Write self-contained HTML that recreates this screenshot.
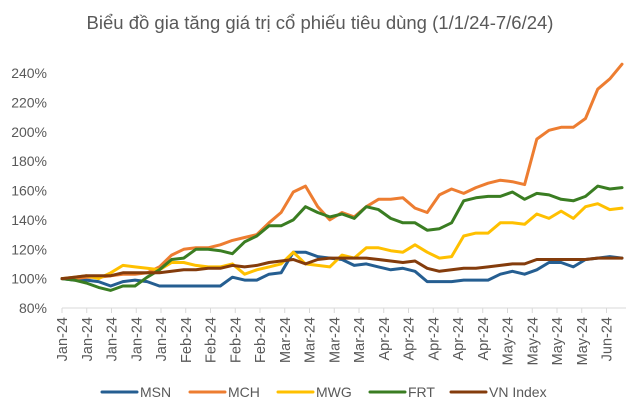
<!DOCTYPE html>
<html><head><meta charset="utf-8"><style>
body{margin:0;background:#fff;}
svg{display:block;font-family:"Liberation Sans",sans-serif;}
</style></head><body>
<svg id="chart" width="640" height="415" viewBox="0 0 640 415">
<text x="320" y="29" text-anchor="middle" font-size="18.5" fill="#595959">Biểu đồ gia tăng giá trị cổ phiếu tiêu dùng (1/1/24-7/6/24)</text>
<g id="yaxis"></g>
<g id="xaxis"></g>
<g id="series"></g>
<g id="legend"></g>
</svg>
<script>
const yTicks=[80,100,120,140,160,180,200,220,240];
const xTickLabels=["Jan-24","Jan-24","Jan-24","Jan-24","Jan-24","Feb-24","Feb-24","Feb-24","Feb-24","Mar-24","Mar-24","Mar-24","Mar-24","Apr-24","Apr-24","Apr-24","Apr-24","Apr-24","May-24","May-24","May-24","May-24","Jun-24"];
const seriesNames=["MSN","MCH","MWG","FRT","VN Index"];
const msn=[100,99,99,98,95,98,99,98,95,95,95,95,95,95,101,99,99,103,104,118,118,115,114,113,109,110,108,106,107,105,98,98,98,99,99,99,103,105,103,106,111,111,108,113,114,115,114];
const mch=[100,100,101,101,102,103,103,104,108,116,120,121,121,123,126,128,130,138,145,159,163,149,140,145,142,149,154,154,155,148,145,157,161,158,162,165,167,166,164,195,201,203,203,209,229,236,246];
const mwg=[100,101,102,100,104,109,108,107,106,111,111,109,108,108,110,103,106,108,110,118,110,109,108,116,114,121,121,119,118,123,118,114,115,129,131,131,138,138,137,144,141,146,141,149,151,147,148];
const frt=[100,99,97,94,92,95,95,101,106,113,114,120,120,119,117,125,129,136,136,140,149,145,142,144,141,149,147,141,138,138,133,134,138,153,155,156,156,159,154,158,157,154,153,156,163,161,162];
const vni=[100,101,102,102,102,104,104,104,104,105,106,106,107,107,109,108,109,111,112,113,110,113,114,114,114,114,113,112,111,112,107,105,106,107,107,108,109,110,110,113,113,113,113,113,114,114,114];
const colors=["#255E91","#ED7D31","#FFC000","#3A7D22","#843C0C"];
const allSeries=[msn,mch,mwg,frt,vni];
const NS="http://www.w3.org/2000/svg";
const X0=62,X1=622,Y0=308,Y1=73;
function yScale(v){return Y0-(v-80)/(240-80)*(Y0-Y1);}
function xScale(i,n){return X0+i*(X1-X0)/(n-1);}
function mk(tag,attrs,parent){const e=document.createElementNS(NS,tag);for(const k in attrs)e.setAttribute(k,attrs[k]);parent.appendChild(e);return e;}
const ya=document.getElementById('yaxis');
yTicks.forEach(t=>{
  const g=mk('text',{x:47,y:yScale(t)+5,'text-anchor':'end','font-size':'14',fill:'#595959'},ya);
  g.textContent=t+'%';
  
  
});
const xa=document.getElementById('xaxis');
const al=mk('line',{x1:X0,y1:Y0,x2:X1+4,y2:Y0,stroke:'#D9D9D9','stroke-width':1},xa);


const tstep=24.75;
xTickLabels.forEach((l,i)=>{
  const x=X0+i*tstep;
  const tk=mk('line',{x1:x,y1:Y0,x2:x,y2:Y0+5,stroke:'#D9D9D9','stroke-width':1},xa);
  
  
  const t=mk('text',{x:0,y:0,'text-anchor':'end','font-size':'14.5',fill:'#595959',transform:`translate(${x+5},317) rotate(-90)`},xa);
  t.textContent=l;
  
  
});
const sg=document.getElementById('series');
allSeries.forEach((s,k)=>{
  const pts=s.map((v,i)=>xScale(i,s.length).toFixed(1)+','+yScale(v).toFixed(1)).join(' ');
  const p=mk('polyline',{points:pts,fill:'none',stroke:colors[k],'stroke-width':3,'stroke-linejoin':'round','stroke-linecap':'round'},sg);
  
  
});
const lg=document.getElementById('legend');
const lx=[100,188,276,368,449];
seriesNames.forEach((n,k)=>{
  const ln=mk('line',{x1:lx[k]+2,y1:392,x2:lx[k]+37,y2:392,stroke:colors[k],'stroke-width':3,'stroke-linecap':'round'},lg);
  
  
  const t=mk('text',{x:lx[k]+40,y:397,'font-size':'14',fill:'#595959'},lg);
  t.textContent=n;
  
  
});
</script>
</body></html>
